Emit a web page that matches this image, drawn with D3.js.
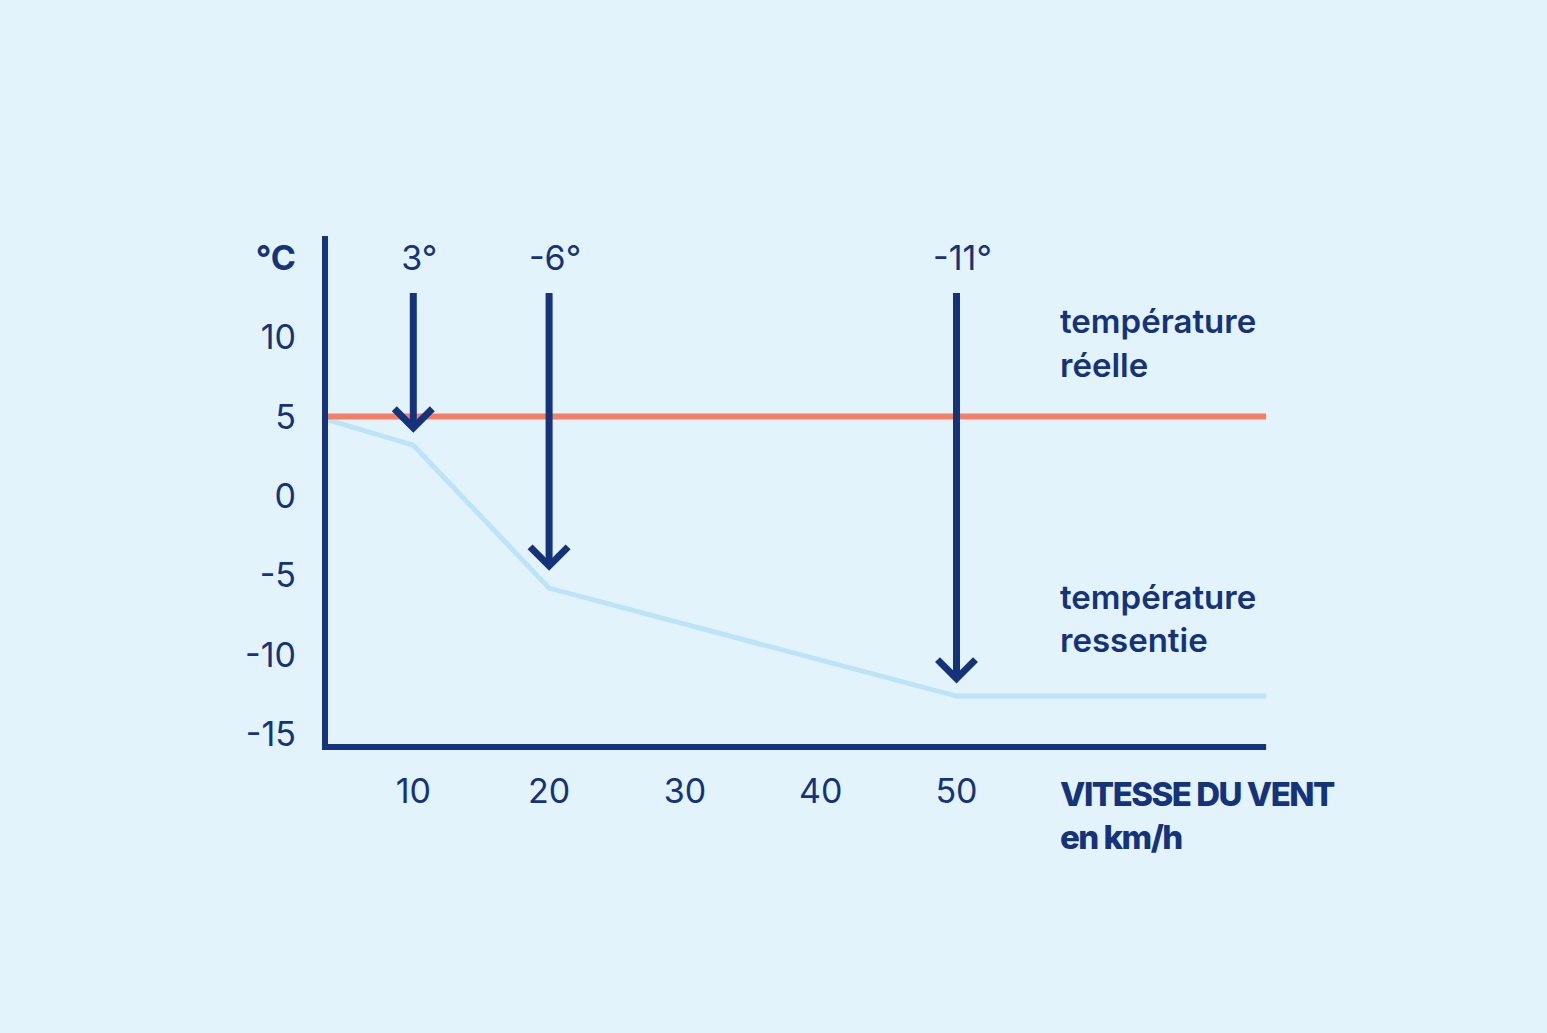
<!DOCTYPE html>
<html><head><meta charset="utf-8">
<script src="https://cdn.jsdelivr.net/npm/d3@7"></script>
<style>body{margin:0;background:#e2f3fc}svg{display:block}text{font-family:Inter,"Noto Sans",sans-serif}</style>
</head><body><svg id="c" width="1547" height="1033"></svg>
<script>
const xTicks=[10,20,30,40,50];
const yTicks=[10,5,0,-5,-10,-15];
const realSpeed=[3.7,72.8];
const realTemp=[5,5];
const feltSpeed=[3.7,10,20,50,72.8];
const feltTemp=[4.8,3.2,-5.8,-12.6,-12.6];
const arrowSpeed=[10,20,50];
const arrowTip=[4.3,-4.4,-11.5];
const arrowLabels=["3°","-6°","-11°"];
const navy="#15337a",red="#f47f66",light="#bde3f7";
const svg=d3.select("#c");
const x=d3.scaleLinear().domain([0,10]).range([277.5,413.3]);
const y=d3.scaleLinear().domain([0,5]).range([496,416.6]);
const line=d3.line().x(d=>x(d[0])).y(d=>y(d[1]));
svg.append("path").datum(feltSpeed.map((s,i)=>[s,feltTemp[i]])).attr("d",line).attr("fill","none").attr("stroke",light).attr("stroke-width",5);
svg.append("path").datum(realSpeed.map((s,i)=>[s,realTemp[i]])).attr("d",line).attr("fill","none").attr("stroke",red).attr("stroke-width",6);
// axes
svg.append("line").attr("x1",325).attr("x2",325).attr("y1",236).attr("y2",750).attr("stroke",navy).attr("stroke-width",6);
svg.append("line").attr("x1",322).attr("x2",x(72.8)).attr("y1",747).attr("y2",747).attr("stroke",navy).attr("stroke-width",6);
svg.selectAll(".xt").data(xTicks).enter().append("text").attr("x",d=>x(d)).attr("y",803).attr("text-anchor","middle").attr("font-size",34).attr("fill",navy).text(d=>d);
svg.selectAll(".yt").data(yTicks).enter().append("text").attr("x",296).attr("y",d=>y(d)+12).attr("text-anchor","end").attr("font-size",34).attr("fill",navy).text(d=>d);
svg.append("text").attr("x",296).attr("y",270).attr("text-anchor","end").attr("font-size",34).attr("font-weight",700).attr("fill",navy).text("°C");
// arrows
arrowSpeed.forEach((s,i)=>{
  const ax=x(s),ty=y(arrowTip[i]);
  svg.append("line").attr("x1",ax).attr("x2",ax).attr("y1",293).attr("y2",ty-4).attr("stroke",navy).attr("stroke-width",7);
  svg.append("path").attr("d",`M${ax-19},${ty-19}L${ax},${ty}L${ax+19},${ty-19}`).attr("fill","none").attr("stroke",navy).attr("stroke-width",7);
  svg.append("text").attr("x",ax+6).attr("y",270).attr("text-anchor","middle").attr("font-size",34).attr("fill",navy).text(arrowLabels[i]);
});
const lab=(t,yy,w,fs)=>svg.append("text").attr("x",1060).attr("y",yy).attr("font-size",fs).attr("font-weight",w).attr("fill",navy).text(t);
lab("température",333,600,33);lab("réelle",377,600,33);
lab("température",609,600,33);lab("ressentie",652,600,33);
lab("VITESSE DU VENT",806,800,33).attr("letter-spacing",-1.5);lab("en km/h",849,800,33).attr("letter-spacing",-1.5);
</script></body></html>
